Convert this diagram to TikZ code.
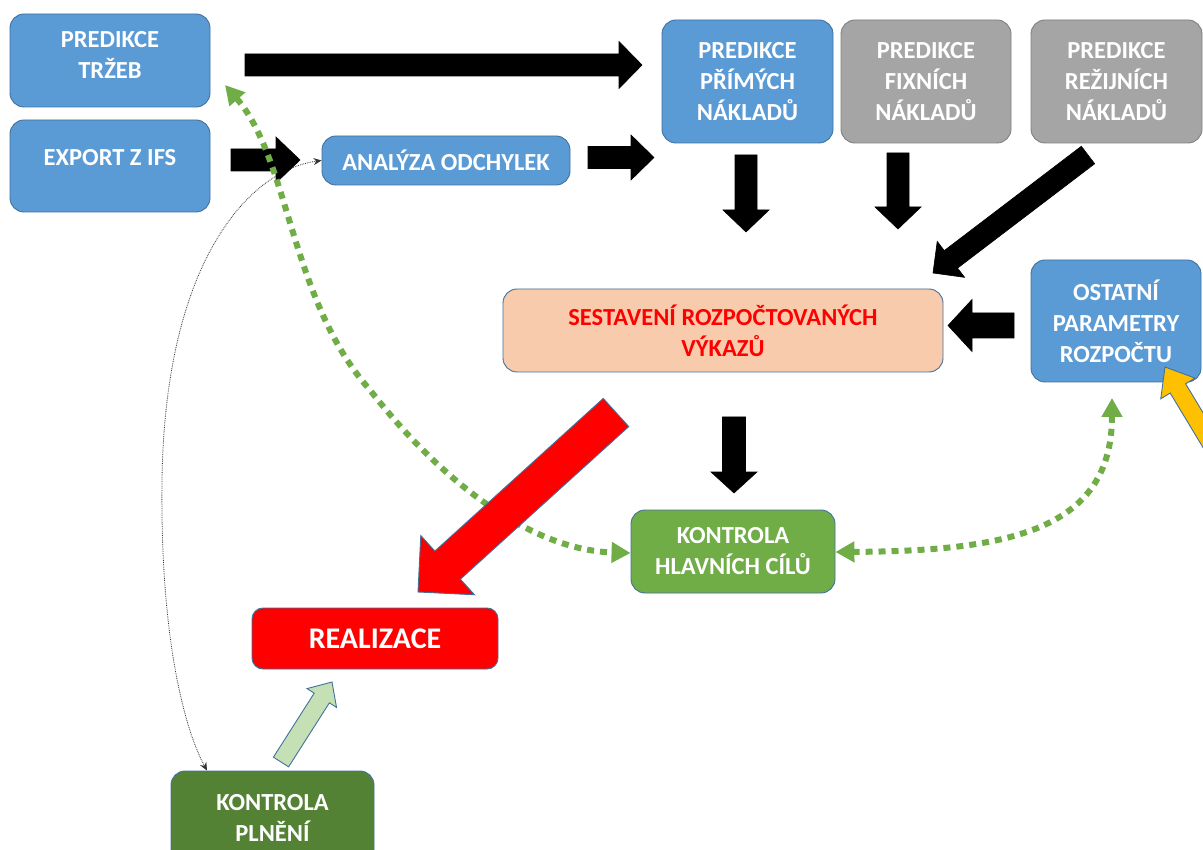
\documentclass[tikz,border=0pt]{standalone}
\usepackage{fontspec}
\setmainfont{Carlito}
\usepackage{tikz}
\usetikzlibrary{arrows.meta,calc}
\definecolor{boxblue}{RGB}{91,155,213}
\definecolor{boxgray}{RGB}{165,165,165}
\definecolor{boxpeach}{RGB}{248,203,173}
\definecolor{boxgreen}{RGB}{112,173,71}
\definecolor{boxdarkgreen}{RGB}{84,130,53}
\definecolor{edgeblue}{RGB}{65,113,156}
\definecolor{edgegray}{RGB}{128,128,128}
\definecolor{palegreen}{RGB}{197,224,180}
\definecolor{amber}{RGB}{255,192,0}

\newcommand{\boxfont}{\fontsize{24.5}{31}\selectfont\bfseries}
% block arrow: [style]{from}{to}{shaft half width}{head half width}{head length}
\newcommand{\blockarrow}[6][]{%
  \coordinate (ba-h) at ($(#3)!#6!(#2)$);
  \draw[#1] ($(#2)!#4!90:(#3)$) -- ($(ba-h)!#4!-90:(#2)$) -- ($(ba-h)!#5!-90:(#2)$) -- (#3)
    -- ($(ba-h)!#5!90:(#2)$) -- ($(ba-h)!#4!90:(#2)$) -- ($(#2)!#4!-90:(#3)$) -- cycle;
}

\begin{document}
\begin{tikzpicture}[x=1pt, y=-1pt,
    stagebox/.style={rounded corners=14pt, draw=edgeblue, line width=0.9pt, fill=boxblue,
      text=white, font=\boxfont, align=center, inner sep=2pt},
    graybox/.style={stagebox, draw=edgegray, fill=boxgray},
    solidarrow/.style={draw=black, fill=black, line width=0.6pt},
    goalflow/.style={draw=boxgreen, line width=6pt, dash pattern=on 7pt off 6pt,
      {Triangle[length=19pt,width=20pt]}-{Triangle[length=19pt,width=20pt]}},
    backflow/.style={draw=black!80, densely dotted, line width=0.8pt,
      {Stealth[length=8pt,width=7pt]}-{Stealth[length=8pt,width=7pt]}}]
    \clip (0,0) rectangle (1203,850);
    \fill[white] (0,0) rectangle (1203,850);

    % Inputs on the left
    \node[stagebox, minimum width=200pt, minimum height=93pt, text depth=11pt] (sales) at (110,60.5) {PREDIKCE\\TRŽEB};
    \node[stagebox, minimum width=200pt, minimum height=92pt, text depth=18pt] (export) at (110,166) {EXPORT Z IFS};
    \node[stagebox, minimum width=248pt, minimum height=49pt] (deviation) at (446,160.5) {ANALÝZA ODCHYLEK};

    % Cost predictions
    \node[stagebox, minimum width=171pt, minimum height=123pt] (direct) at (747.5,81.5) {PREDIKCE\\PŘÍMÝCH\\NÁKLADŮ};
    \node[graybox, minimum width=170pt, minimum height=123pt] (fixed) at (926,81.5) {PREDIKCE\\FIXNÍCH\\NÁKLADŮ};
    \node[graybox, minimum width=171pt, minimum height=123pt] (overhead) at (1116.5,81.5) {PREDIKCE\\REŽIJNÍCH\\NÁKLADŮ};

    % Budget assembly
    \node[stagebox, fill=boxpeach, text=red, minimum width=440pt, minimum height=83pt] (statements) at (723,330.5) {SESTAVENÍ ROZPOČTOVANÝCH\\VÝKAZŮ};
    \node[stagebox, minimum width=170pt, minimum height=122pt] (params) at (1116,321) {OSTATNÍ\\PARAMETRY\\ROZPOČTU};
    \node[stagebox, fill=boxgreen, minimum width=204pt, minimum height=83pt] (goals) at (733,551.5) {KONTROLA\\HLAVNÍCH CÍLŮ};

    % Execution and control
    \node[stagebox, rounded corners=11pt, fill=red, font=\fontsize{30}{36}\selectfont\bfseries, minimum width=246pt, minimum height=61pt] (execution) at (375,638.5) {REALIZACE};
    \node[stagebox, fill=boxdarkgreen, minimum width=203pt, minimum height=93pt] (fulfil) at (272.5,817.5) {KONTROLA\\PLNĚNÍ};

    % Thin feedback line
    \draw[backflow] (deviation.west) .. controls (250,170) and (165,260) .. (162,480)
      .. controls (160,640) and (185,730) .. (fulfil.north west -| 207,0);

    % Free ends of the block arrows
    \coordinate (sales-out) at (245,65);     \coordinate (direct-in) at (642,65);
    \coordinate (export-out) at (231,160);   \coordinate (deviation-in) at (300,160);
    \coordinate (deviation-out) at (588,157.5); \coordinate (direct-in2) at (654,157.5);
    \coordinate (direct-out) at (746,155);   \coordinate (direct-end) at (746,232);
    \coordinate (fixed-out) at (898,153);    \coordinate (fixed-end) at (898,229);
    \coordinate (overhead-out) at (1088,155); \coordinate (overhead-end) at (933,273);
    \coordinate (params-out) at (1014,325.5); \coordinate (statements-in) at (948,325.5);
    \coordinate (statements-out) at (734,417); \coordinate (goals-in) at (734,493);
    \coordinate (red-out) at (616,412.5);    \coordinate (execution-in) at (418,592);
    \coordinate (fulfil-out) at (281,762);   \coordinate (execution-in2) at (332,682);
    \coordinate (amber-out) at (1215,450);   \coordinate (params-in) at (1165,367);

    % Black block arrows
    \blockarrow[solidarrow]{sales-out}{direct-in}{11pt}{23.5pt}{23pt}
    \blockarrow[solidarrow]{export-out}{deviation-in}{11pt}{23pt}{24pt}
    \blockarrow[solidarrow]{deviation-out}{direct-in2}{11pt}{22.5pt}{23pt}
    \blockarrow[solidarrow]{direct-out}{direct-end}{11pt}{23pt}{22pt}
    \blockarrow[solidarrow]{fixed-out}{fixed-end}{11pt}{23pt}{22pt}
    \blockarrow[solidarrow]{overhead-out}{overhead-end}{11pt}{22.6pt}{22.5pt}
    \blockarrow[solidarrow]{params-out}{statements-in}{12.5pt}{26pt}{24pt}
    \blockarrow[solidarrow]{statements-out}{goals-in}{11.5pt}{23pt}{21pt}

    % Green dotted checks
    \draw[goalflow] (225,85) .. controls (290,160) and (290,300) .. (370,390)
      .. controls (440,480) and (530,550) .. (goals.west |- 0,553);
    \draw[goalflow] (1112,398) .. controls (1112,530) and (1010,551) .. (goals.east |- 0,552);

    % Coloured block arrows
    \blockarrow[draw=edgeblue, fill=red, line width=0.9pt]{red-out}{execution-in}{19pt}{40pt}{40pt}
    \blockarrow[draw=edgeblue, fill=palegreen, line width=0.9pt]{fulfil-out}{execution-in2}{9pt}{17.5pt}{19pt}
    \blockarrow[draw=edgeblue, fill=amber, line width=0.9pt]{amber-out}{params-in}{9pt}{20pt}{25pt}
\end{tikzpicture}
\end{document}
